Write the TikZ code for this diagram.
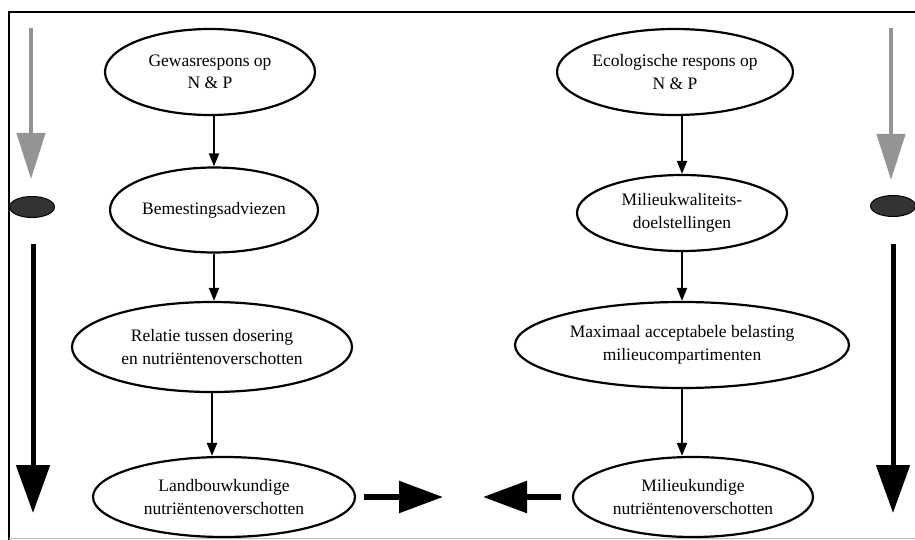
\documentclass[tikz,border=0pt]{standalone}
\usepackage{fontspec}
\setmainfont{Liberation Serif}
\usetikzlibrary{shapes.geometric,arrows.meta,calc}

\tikzset{
  x=1pt, y=-1pt,
  oval/.style={draw, ellipse, line width=2.2pt, inner sep=0pt, align=center,
    font=\fontsize{17.5}{22.5}\selectfont},
  thinarrow/.style={line width=2pt, -{Triangle[length=13pt,width=10pt]}},
  bigarrow/.style={line width=5.5pt, -{Triangle[length=44pt,width=31pt]}},
  sidearrow/.style={line width=5pt, -{Triangle[length=48pt,width=33pt]}},
  greyarrow/.style={draw=black!42, line width=4.5pt, -{Triangle[length=46pt,width=28pt,fill=black!42]}},
  marker/.style={draw=black, fill=black!80, ellipse, line width=1pt,
    minimum width=45pt, minimum height=21pt, inner sep=0pt},
}

\begin{document}
\begin{tikzpicture}
\useasboundingbox (0,0) rectangle (915,540);

% frame
\draw[line width=2.5pt] (9,540) -- (9,12) -- (915,12);
\draw[black!25, line width=1pt] (9,538) -- (915,538);

% left chain: agricultural side
\node[oval, minimum width=210pt, minimum height=86pt] (g1) at (210,72) {Gewasrespons op\\N \& P};
\node[oval, minimum width=208pt, minimum height=85pt] (g2) at (214,210) {Bemestingsadviezen};
\node[oval, minimum width=280pt, minimum height=90pt] (g3) at (212,347) {Relatie tussen dosering\\en nutriëntenoverschotten};
\node[oval, minimum width=262pt, minimum height=80pt] (g4) at (224,497) {Landbouwkundige\\nutriëntenoverschotten};

% right chain: environmental side
\node[oval, minimum width=236pt, minimum height=86pt] (e1) at (675,72) {Ecologische respons op\\N \& P};
\node[oval, minimum width=210pt, minimum height=76pt] (e2) at (682,213) {Milieukwaliteits-\\doelstellingen};
\node[oval, minimum width=334pt, minimum height=86pt] (e3) at (682,345) {Maximaal acceptabele belasting\\milieucompartimenten};
\node[oval, minimum width=240pt, minimum height=80pt] (e4) at (693,497) {Milieukundige\\nutriëntenoverschotten};

% flow arrows
\draw[thinarrow] (g1.south -| g2.north) -- (g2.north);
\draw[thinarrow] (g2.south) -- (g2.south |- g3.north);
\draw[thinarrow] (g3.south) -- (g3.south |- g4.north);
\draw[thinarrow] (e1.south -| e2.north) -- (e2.north);
\draw[thinarrow] (e2) -- (e3);
\draw[thinarrow] (e3.south) -- (e3.south |- e4.north);

% converging arrows between the two outcomes
\coordinate (tipL) at (443,497);
\coordinate (tipR) at (483,497);
\draw[bigarrow] ($(g4.east)+(8,0)$) -- (tipL);
\draw[bigarrow] ($(e4.west)+(-11,0)$) -- (tipR);

% side markers: grey arrow, oval marker, black arrow
\coordinate (lg0) at (31,28);  \coordinate (lg1) at (31,179);
\coordinate (rg0) at (891,28); \coordinate (rg1) at (891,180);
\draw[greyarrow] (lg0) -- (lg1);
\draw[greyarrow] (rg0) -- (rg1);
\node[marker] (lm) at (32,207) {};
\node[marker] (rm) at (893,206) {};
\coordinate (lb0) at (33,244);  \coordinate (lb1) at (33,513);
\coordinate (rb0) at (893,244); \coordinate (rb1) at (893,513);
\draw[sidearrow] (lb0) -- (lb1);
\draw[sidearrow] (rb0) -- (rb1);
\end{tikzpicture}
\end{document}
